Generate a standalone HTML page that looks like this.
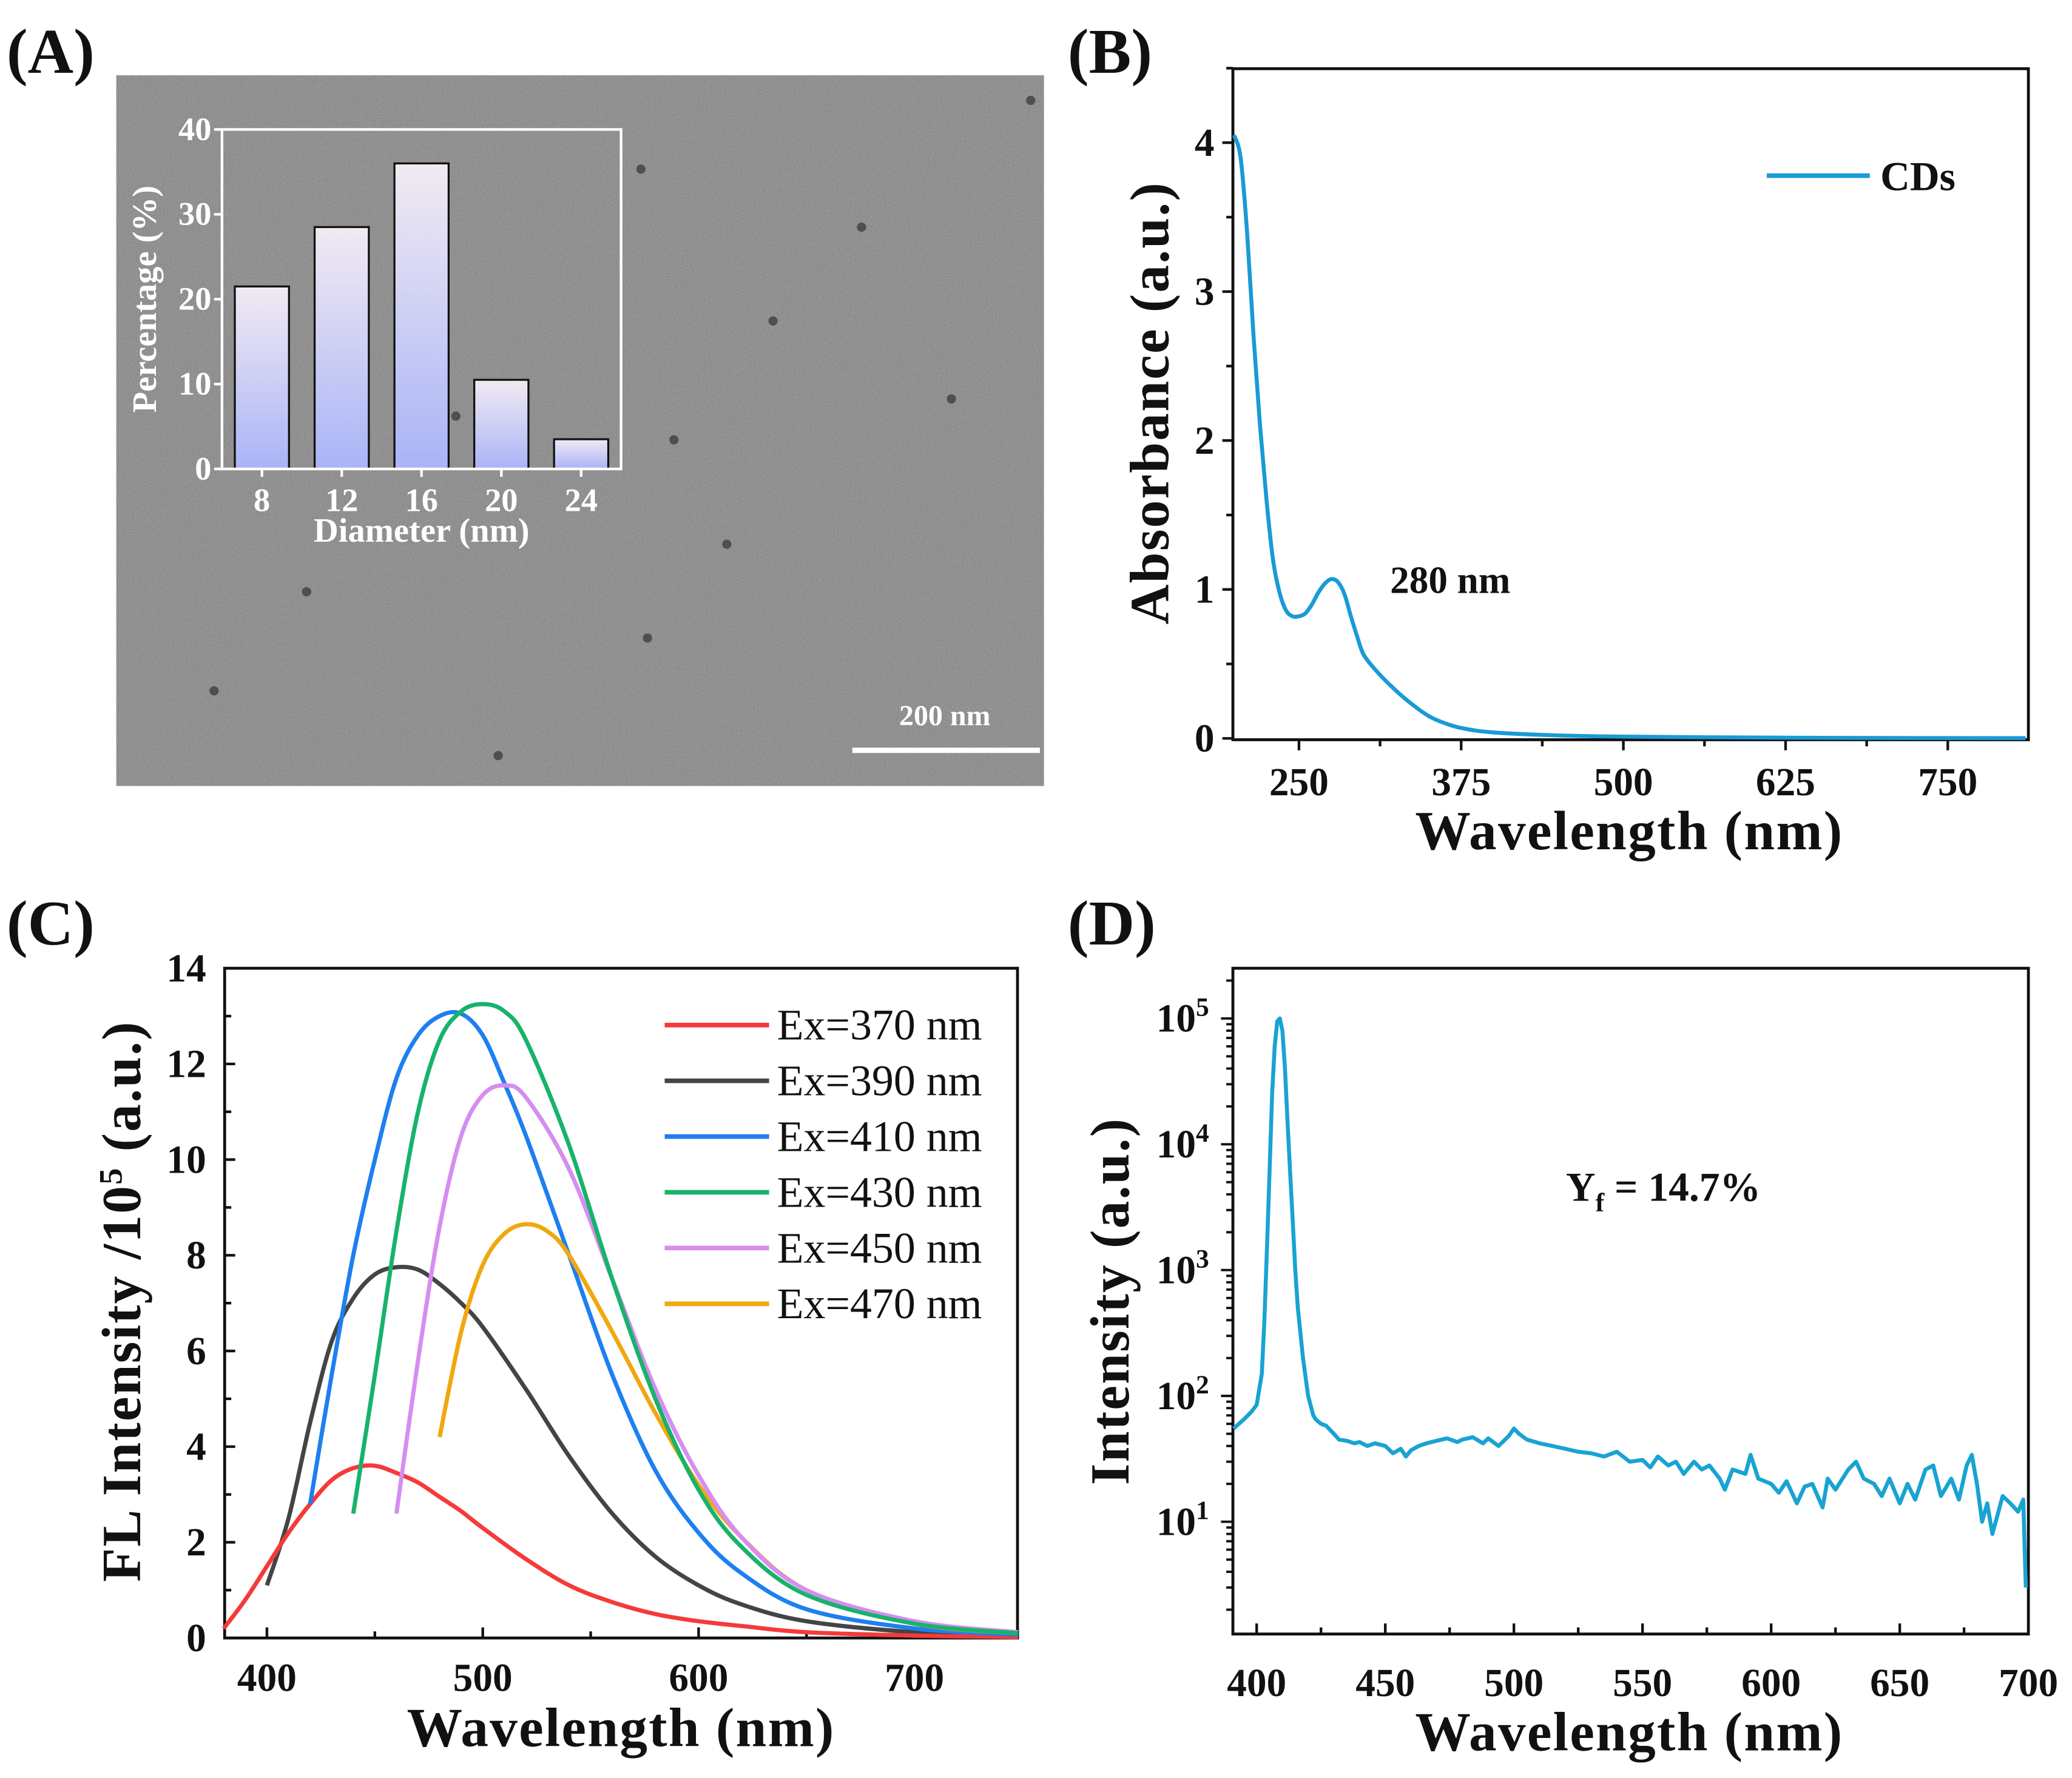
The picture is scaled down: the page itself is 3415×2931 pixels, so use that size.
<!DOCTYPE html>
<html><head><meta charset="utf-8"><style>
html,body{margin:0;padding:0;background:#fff;}
svg{display:block;}
text{font-family:"Liberation Serif",serif;font-weight:bold;fill:#111;}
</style></head><body>
<svg id="fig" width="3415" height="2931" viewBox="0 0 1568 1346" preserveAspectRatio="none" xmlns="http://www.w3.org/2000/svg">
<defs>
<filter id="noise" x="0" y="0" width="100%" height="100%">
<feTurbulence type="fractalNoise" baseFrequency="1.2" numOctaves="2" seed="3"/>
<feColorMatrix type="matrix" values="0 0 0 0 0.5  0 0 0 0 0.5  0 0 0 0 0.5  0.4 0.4 0.4 0 -0.35"/>
</filter>
<linearGradient id="barGrad" x1="0" y1="0" x2="0" y2="1">
<stop offset="0" stop-color="#f2eaf2"/><stop offset="1" stop-color="#a9b4f7"/>
</linearGradient>
</defs>
<g id="root"></g>
</svg>
<script>
// ---------- Panel A data ----------
const histCats = [8, 12, 16, 20, 24];
const histVals = [21.5, 28.5, 36, 10.5, 3.5];
const histTicks = [0, 10, 20, 30, 40];
// ---------- Panel B data ----------
const absWl = [200,205,210,215,220,225,230,235,240,245,250,255,260,265,270,275,280,285,290,295,300,310,320,330,340,350,360,375,400,450,500,600,700,810];
const absVal = [4.05,3.9,3.4,2.7,2.1,1.6,1.2,0.98,0.86,0.82,0.82,0.84,0.9,0.98,1.04,1.07,1.05,0.97,0.82,0.68,0.56,0.45,0.36,0.28,0.21,0.15,0.11,0.07,0.04,0.02,0.012,0.006,0.003,0.002];
const absXTicks = [250,375,500,625,750];
const absYTicks = [0,1,2,3,4];
// ---------- Panel C data ----------
const flLabels = ["Ex=370 nm","Ex=390 nm","Ex=410 nm","Ex=430 nm","Ex=450 nm","Ex=470 nm"];
const flColors = ["#f53a3a","#444444","#1e7ff0","#18b36b","#d58ef0","#f0a810"];
const fl370x = [380,390,400,410,420,430,440,450,460,470,480,490,500,520,540,560,580,600,620,650,700,748];
const fl370y = [0.2,0.8,1.5,2.2,2.8,3.3,3.55,3.6,3.45,3.25,2.95,2.65,2.3,1.65,1.1,0.75,0.5,0.35,0.25,0.12,0.05,0.02];
const fl390x = [400,410,420,430,440,450,460,470,480,490,500,520,540,560,580,600,620,650,700,748];
const fl390y = [1.1,2.5,4.5,6.2,7.1,7.6,7.75,7.7,7.4,7.0,6.5,5.2,3.8,2.6,1.7,1.1,0.7,0.35,0.12,0.05];
const fl410x = [420,430,440,450,460,470,480,490,500,510,520,540,560,580,600,620,650,700,748];
const fl410y = [2.8,5.5,8.0,10.0,11.7,12.6,13.0,13.05,12.6,11.6,10.5,8.0,5.5,3.5,2.2,1.35,0.6,0.2,0.07];
const fl430x = [440,450,460,470,480,490,500,510,520,540,560,580,600,620,650,700,748];
const fl430y = [2.6,5.5,8.5,11.0,12.5,13.1,13.25,13.1,12.5,10.3,7.5,5.0,3.1,1.9,0.9,0.3,0.1];
const fl450x = [460,470,480,490,500,510,520,540,560,580,600,620,650,700,748];
const fl450y = [2.6,5.8,8.6,10.5,11.35,11.55,11.3,9.8,7.5,5.2,3.4,2.1,1.0,0.35,0.12];
const fl470x = [480,490,500,510,520,530,540,560,580,600,620,650,700,748];
const fl470y = [4.2,6.4,7.8,8.45,8.65,8.5,8.0,6.4,4.7,3.2,2.1,1.0,0.3,0.1];
const flXTicks = [400,500,600,700];
const flYTicks = [0,2,4,6,8,10,12,14];
// ---------- Panel D data ----------
const qyWl = [391,395,398,400,402,403,404,405,406,407,408,409,410,411,412,413,414,415,416,418,420,422,423,425,427,430,432,435,438,440,443,446,450,453,456,458,460,463,466,470,474,478,480,484,488,490,494,498,500,502,505,510,515,520,525,530,535,540,545,550,553,556,560,563,566,570,573,576,580,582,585,590,592,595,600,603,606,610,613,616,620,622,625,630,633,636,640,643,646,650,653,656,660,663,666,670,673,676,678,680,682,684,686,690,693,696,698,699];
const qyVal = [55,65,75,85,150,400,1500,6000,25000,60000,95000,100000,80000,40000,15000,6000,2500,1000,500,200,100,70,65,60,58,50,45,44,42,43,40,42,40,35,38,33,37,40,42,44,46,43,45,47,42,46,40,48,55,50,45,42,40,38,36,35,33,36,30,31,27,33,28,30,24,30,26,28,22,18,26,24,34,22,20,17,21,14,19,20,13,22,18,26,30,22,20,16,22,14,20,15,26,28,16,22,15,28,34,20,10,14,8,16,14,12,15,3];
const qyXTicks = [400,450,500,550,600,650,700];
const qyYExp = [1,2,3,4,5];

const NS = "http://www.w3.org/2000/svg";
const root = document.getElementById('root');
function el(tag, attrs, parent, txt){
  const e = document.createElementNS(NS, tag);
  for (const k in attrs) e.setAttribute(k, attrs[k]);
  if (txt !== undefined) e.textContent = txt;
  (parent || root).appendChild(e);
  return e;
}
function lin(d0,d1,r0,r1){ return v => r0 + (v-d0)/(d1-d0)*(r1-r0); }
function smoothPath(pts){
  let d = "M"+pts[0][0].toFixed(2)+","+pts[0][1].toFixed(2);
  for (let i=0;i<pts.length-1;i++){
    const p0=pts[Math.max(0,i-1)], p1=pts[i], p2=pts[i+1], p3=pts[Math.min(pts.length-1,i+2)];
    const c1=[p1[0]+(p2[0]-p0[0])/6, p1[1]+(p2[1]-p0[1])/6];
    const c2=[p2[0]-(p3[0]-p1[0])/6, p2[1]-(p3[1]-p1[1])/6];
    d += "C"+c1[0].toFixed(2)+","+c1[1].toFixed(2)+" "+c2[0].toFixed(2)+","+c2[1].toFixed(2)+" "+p2[0].toFixed(2)+","+p2[1].toFixed(2);
  }
  return d;
}
function polyPath(pts){ return "M"+pts.map(p=>p[0].toFixed(2)+","+p[1].toFixed(2)).join("L"); }

// ===== Panel labels =====
const labA = el('text',{x:5,y:55,'font-size':48},root,'(A)');
 
const labB = el('text',{x:808,y:55,'font-size':48},root,'(B)');
 
const labC = el('text',{x:5,y:715,'font-size':48},root,'(C)');
 
const labD = el('text',{x:808,y:715,'font-size':48},root,'(D)');
 

// ===== Panel A =====
(function(){
  const g = el('g',{});
   
  el('rect',{x:88,y:57,width:702,height:538,fill:'#828282'},g);
  el('rect',{x:88,y:57,width:702,height:538,filter:'url(#noise)'},g);
  const dots=[[485,128],[720,302],[652,172],[585,243],[510,333],[232,448],[162,523],[377,572],[550,412],[780,76],[490,483],[345,315]];
  dots.forEach(d=>{ const c=el('circle',{cx:d[0],cy:d[1],r:3.5,fill:'#333',opacity:0.7},g);
      });
  const sb = el('line',{x1:645,y1:568,x2:787,y2:568,stroke:'#fff','stroke-width':4},g);
   
  const st = el('text',{x:715,y:549,'font-size':22,'text-anchor':'middle',style:'fill:#fff'},g,'200 nm');
   

  const ax = {l:168,r:470,t:98,b:355};
  const ys = lin(0,40,ax.b,ax.t);
  const xs = lin(6,26,ax.l,ax.r);
  const ig = el('g',{},g);
   
  histCats.forEach((c,i)=>{
    const w = 41;
    const b = el('rect',{x:xs(c)-w/2,y:ys(histVals[i]),width:w,height:ys(0)-ys(histVals[i]),fill:'url(#barGrad)',stroke:'#111','stroke-width':1.5},ig);
     
    const t = el('text',{x:xs(c),y:ax.b+32,'font-size':25,'text-anchor':'middle',style:'fill:#fff'},ig,String(c));
     
    el('line',{x1:xs(c),y1:ax.b,x2:xs(c),y2:ax.b+6,stroke:'#fff','stroke-width':2},ig);
  });
  const fr = el('rect',{x:ax.l,y:ax.t,width:ax.r-ax.l,height:ax.b-ax.t,fill:'none',stroke:'#fff','stroke-width':2},ig);
   
  histTicks.forEach(v=>{
    el('line',{x1:ax.l-6,y1:ys(v),x2:ax.l,y2:ys(v),stroke:'#fff','stroke-width':2},ig);
    const t = el('text',{x:ax.l-8,y:ys(v)+8,'font-size':25,'text-anchor':'end',style:'fill:#fff'},ig,String(v));
     
  });
  const xt = el('text',{x:(ax.l+ax.r)/2,y:ax.b+55,'font-size':26,'text-anchor':'middle',style:'fill:#fff'},ig,'Diameter (nm)');
   
  const yt = el('text',{x:0,y:0,'font-size':26,'text-anchor':'middle',transform:'translate(118,'+((ax.t+ax.b)/2)+') rotate(-90)',style:'fill:#fff'},ig,'Percentage (%)');
   
})();

function axesFrame(g, ax){
  const f = el('rect',{x:ax.l,y:ax.t,width:ax.r-ax.l,height:ax.b-ax.t,fill:'none',stroke:'#111','stroke-width':2.2},g);
   
}

// ===== Panel B =====
(function(){
  const g = el('g',{});
   
  const ax = {l:933,r:1535,t:52,b:560};
  const xs = lin(250,750,983,1474), ys = lin(0,4,559,108);
  axesFrame(g,ax);
  for (let v=250-62.5; v<=812; v+=62.5){ if (v<199) continue;
    const major = absXTicks.includes(v);
    el('line',{x1:xs(v),y1:ax.b,x2:xs(v),y2:ax.b+(major?8:5),stroke:'#111','stroke-width':2},g); }
  absXTicks.forEach(v=>{ const t=el('text',{x:xs(v),y:ax.b+42,'font-size':30,'text-anchor':'middle'},g,String(v));
      });
  for (let v=0; v<=4.5; v+=0.5){ const major = absYTicks.includes(v);
    el('line',{x1:ax.l-(major?8:5),y1:ys(v),x2:ax.l,y2:ys(v),stroke:'#111','stroke-width':2},g); }
  absYTicks.forEach(v=>{ const t=el('text',{x:ax.l-14,y:ys(v)+10,'font-size':30,'text-anchor':'end'},g,String(v));
      });
  const pts = absWl.map((w,i)=>[xs(w),ys(absVal[i])]);
  const p = el('path',{d:smoothPath(pts),fill:'none',stroke:'#1a9ad6','stroke-width':3},g);
   
  el('line',{x1:1337,y1:133,x2:1415,y2:133,stroke:'#1a9ad6','stroke-width':3.5},g);
  const lt = el('text',{x:1423,y:144,'font-size':31},g,'CDs');
   
  const an = el('text',{x:1052,y:449,'font-size':29},g,'280 nm');
   
  const xt = el('text',{x:1233,y:643,'font-size':42,'text-anchor':'middle',style:'letter-spacing:1px'},g,'Wavelength (nm)');
   
  const yt = el('text',{x:0,y:0,'font-size':42,'text-anchor':'middle',transform:'translate(884,305) rotate(-90)',style:'letter-spacing:1px'},g,'Absorbance (a.u.)');
   
})();

// ===== Panel C =====
(function(){
  const g = el('g',{});
   
  const ax = {l:170,r:770,t:733,b:1240};
  const xs = lin(400,700,202,692), ys = lin(0,14,1240,733);
  axesFrame(g,ax);
  for (let v=400; v<=748; v+=50){ const major = flXTicks.includes(v);
    el('line',{x1:xs(v),y1:ax.b,x2:xs(v),y2:ax.b-(major?8:5),stroke:'#111','stroke-width':2},g); }
  flXTicks.forEach(v=>{ const t=el('text',{x:xs(v),y:ax.b+40,'font-size':30,'text-anchor':'middle'},g,String(v));
      });
  for (let v=0; v<=14; v+=1){ const major = flYTicks.includes(v);
    el('line',{x1:ax.l,y1:ys(v),x2:ax.l+(major?8:5),y2:ys(v),stroke:'#111','stroke-width':2},g); }
  flYTicks.forEach(v=>{ const t=el('text',{x:ax.l-14,y:ys(v)+10,'font-size':30,'text-anchor':'end'},g,String(v));
      });
  const series = [[fl370x,fl370y],[fl390x,fl390y],[fl410x,fl410y],[fl430x,fl430y],[fl450x,fl450y],[fl470x,fl470y]];
  const order = [1,0,2,5,4,3];
  order.forEach(i=>{
    const pts = series[i][0].map((w,j)=>[xs(w),ys(series[i][1][j])]);
    const p = el('path',{d:smoothPath(pts),fill:'none',stroke:flColors[i],'stroke-width':3.2},g);
    
    
  });
  flLabels.forEach((lab,i)=>{
    const y = 776 + i*42.2;
    el('line',{x1:503,y1:y,x2:582,y2:y,stroke:flColors[i],'stroke-width':3.5},g);
    const t = el('text',{x:588,y:y+11,'font-size':33,style:'font-weight:normal'},g,lab);
     
  });
  const xt = el('text',{x:470,y:1322,'font-size':42,'text-anchor':'middle',style:'letter-spacing:1px'},g,'Wavelength (nm)');
   
  const yt = el('text',{x:0,y:0,'font-size':42,'text-anchor':'middle',transform:'translate(106,985) rotate(-90)',style:'letter-spacing:1px'},g);
   
  el('tspan',{},yt,'FL Intensity /10');
  el('tspan',{dy:-14,'font-size':25},yt,'5');
  el('tspan',{dy:14},yt,' (a.u.)');
})();

// ===== Panel D =====
(function(){
  const g = el('g',{});
   
  const ax = {l:933,r:1535,t:733,b:1237};
  const xs = lin(400,700,951,1535);
  const ly = lin(1,5,1152,771);
  const ys = v => ly(Math.log10(v));
  axesFrame(g,ax);
  for (let v=400; v<=700; v+=25){ const major = qyXTicks.includes(v);
    el('line',{x1:xs(v),y1:ax.b,x2:xs(v),y2:ax.b-(major?8:5),stroke:'#111','stroke-width':2},g); }
  qyXTicks.forEach(v=>{ const t=el('text',{x:xs(v),y:ax.b+47,'font-size':30,'text-anchor':'middle'},g,String(v));
      });
  for (let e=0; e<=5; e++){ for (let m=1; m<=9; m++){
    const v = m*Math.pow(10,e); const y = ys(v);
    if (y<ax.t || y>ax.b) continue;
    el('line',{x1:ax.l-(m===1?9:5),y1:y,x2:ax.l,y2:y,stroke:'#111','stroke-width':1.8},g); } }
  qyYExp.forEach(e=>{ const t=el('text',{x:ax.l-18,y:ys(Math.pow(10,e))+10,'font-size':30,'text-anchor':'end'},g);
     
    el('tspan',{},t,'10'); el('tspan',{dy:-12,'font-size':20},t,String(e)); });
  const pts = qyWl.map((w,i)=>[xs(w),ys(qyVal[i])]);
  const p = el('path',{d:polyPath(pts),fill:'none',stroke:'#19a3d3','stroke-width':3,'stroke-linejoin':'round'},g);
   
  const an = el('text',{x:1185,y:909,'font-size':31},g);
   
  el('tspan',{},an,'Y'); el('tspan',{dy:8,'font-size':20},an,'f'); el('tspan',{dy:-8},an,' = 14.7%');
  const xt = el('text',{x:1233,y:1325,'font-size':42,'text-anchor':'middle',style:'letter-spacing:1px'},g,'Wavelength (nm)');
   
  const yt = el('text',{x:0,y:0,'font-size':42,'text-anchor':'middle',transform:'translate(854,985) rotate(-90)',style:'letter-spacing:1px'},g,'Intensity (a.u.)');
   
})();
</script>
</body></html>
